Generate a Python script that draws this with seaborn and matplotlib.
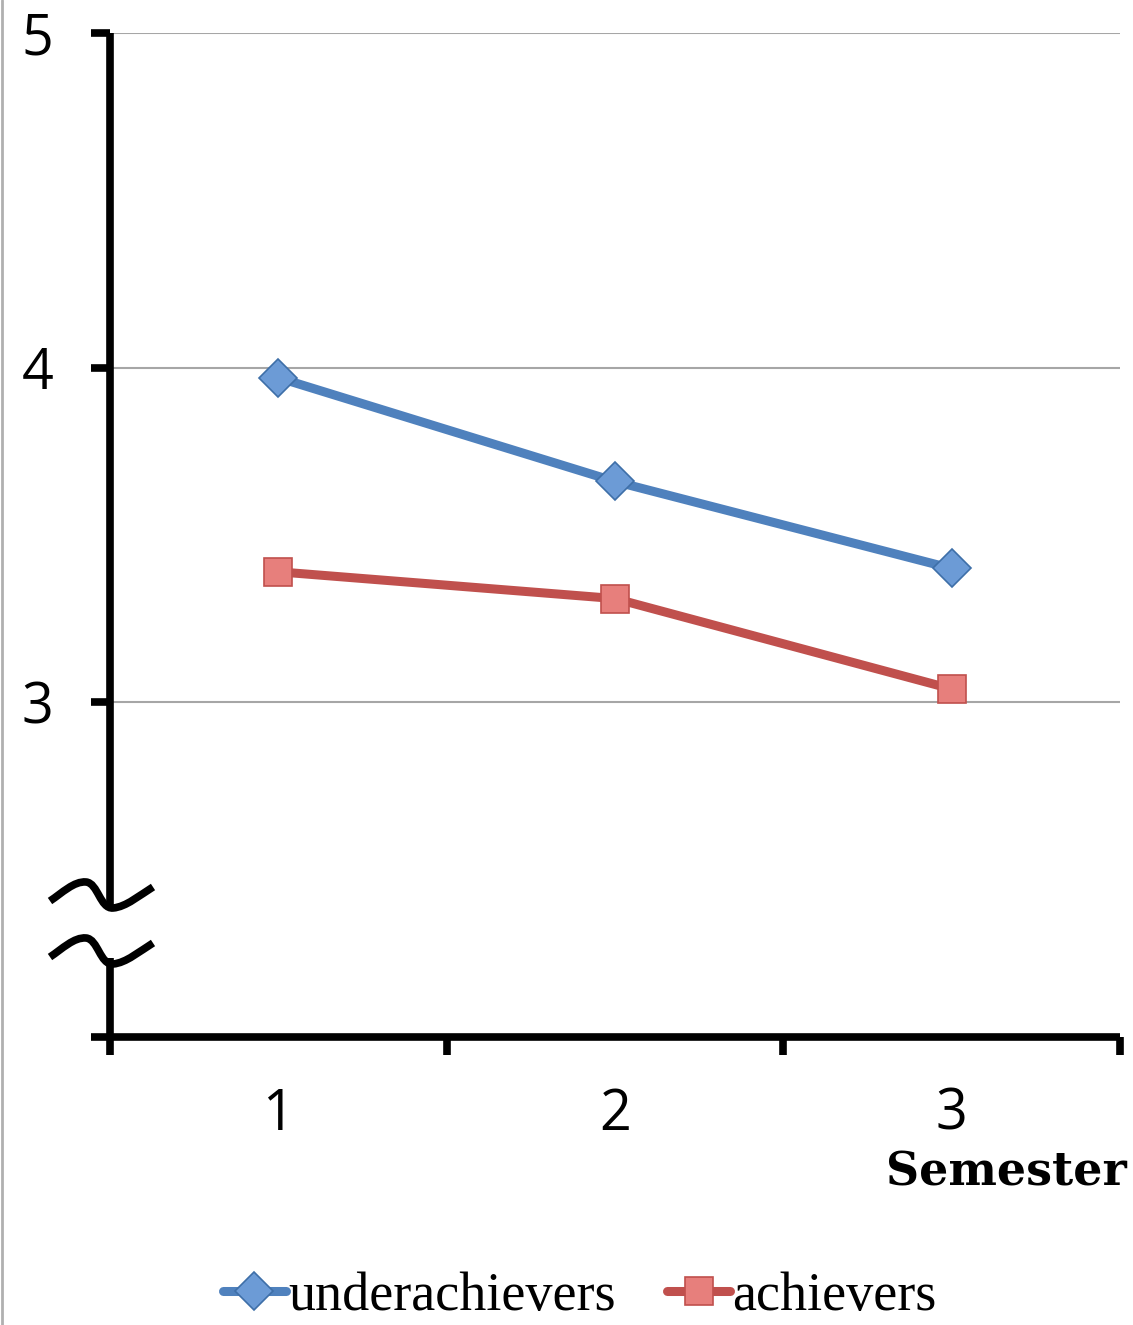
import matplotlib
matplotlib.use("Agg")
import matplotlib.pyplot as plt
import matplotlib.lines as mlines
from matplotlib.path import Path
from matplotlib.patches import PathPatch
import pandas as pd
import seaborn as sns

# values
semesters = [1, 2, 3]
underachievers = [3.97, 3.66, 3.40]
achievers = [3.39, 3.31, 3.04]
series_names = ["underachievers", "achievers"]
y_ticks = [2, 3, 4, 5]
y_tick_labels = ["", "3", "4", "5"]

df = pd.DataFrame({
    "Semester": semesters * 2,
    "value": underachievers + achievers,
    "group": [series_names[0]] * 3 + [series_names[1]] * 3,
})

sns.set_style("white")
plt.rcParams["font.family"] = ["Open Sans", "DejaVu Sans"]
plt.rcParams["text.color"] = "black"
plt.rcParams["xtick.color"] = "black"
plt.rcParams["ytick.color"] = "black"

W, H = 1133, 1325
fig = plt.figure(figsize=(W / 100, H / 100), dpi=100)
ax = fig.add_axes([110 / W, 1 - 1037 / H, 1010 / W, 1004 / H])

blue, red = "#4F81BD", "#C0504D"
sns.lineplot(data=df[df.group == "underachievers"], x="Semester", y="value",
             color=blue, lw=6.5, marker="D", markersize=19,
             markerfacecolor="#6C9BD6", markeredgecolor="#3E6FA8", markeredgewidth=1.2,
             ax=ax, label="underachievers", legend=False)
sns.lineplot(data=df[df.group == "achievers"], x="Semester", y="value",
             color=red, lw=6.5, marker="s", markersize=20,
             markerfacecolor="#E77F7C", markeredgecolor="#C0504D", markeredgewidth=1.2,
             ax=ax, label="achievers", legend=False)

ax.set_xlim(0.5, 3.5)
ax.set_ylim(2, 5)
ax.set_xlabel("")
ax.set_ylabel("")

# gridlines at 3, 4, 5
for yv in y_ticks[1:]:
    ax.axhline(yv, color="#A6A6A6", lw=1.5, zorder=0)

for s in ["top", "right"]:
    ax.spines[s].set_visible(False)
for s in ["left", "bottom"]:
    ax.spines[s].set_linewidth(5.5)
    ax.spines[s].set_color("black")
    ax.spines[s].set_capstyle("butt")

ax.set_yticks(y_ticks)
ax.set_yticklabels(y_tick_labels, fontsize=40, color="black")
ax.tick_params(axis="y", left=True, length=14, width=5.5, direction="out", pad=27, color="black")

# tick marks at category boundaries, labels at category centres
ax.set_xticks([0.5, 1.5, 2.5, 3.5])
ax.set_xticklabels([])
ax.tick_params(axis="x", which="major", bottom=True, length=13, width=5.5, direction="out",
               color="black")
ax.set_xticks(semesters, minor=True)
ax.set_xticklabels([str(s) for s in semesters], minor=True, fontsize=40, color="black")
ax.tick_params(axis="x", which="minor", bottom=True, length=0, pad=36)

# axis break on the y axis (white gap + two wavy marks), drawn in pixel units
ax.add_patch(plt.Rectangle((-0.02, 2.235), 0.04, 0.16, transform=ax.get_yaxis_transform(),
                           facecolor="white", edgecolor="none", zorder=5, clip_on=False))


def px(x, y):
    return ((x - 110) / 1010, (1037 - y) / 1004)


for dy in [0, 56]:
    verts = [px(50, 901 + dy),
             px(62, 893 + dy), px(74, 881 + dy), px(86, 882 + dy),
             px(98, 883 + dy), px(100, 909 + dy), px(113, 908 + dy),
             px(126, 907 + dy), px(140, 895 + dy), px(153, 887 + dy)]
    codes = [Path.MOVETO] + [Path.CURVE4] * 9
    ax.add_patch(PathPatch(Path(verts, codes), facecolor="none", edgecolor="black", lw=5.5,
                           transform=ax.transAxes, clip_on=False, zorder=6, capstyle="butt"))

fig.text(1127 / W, 1 - 1172 / H, "Semester", ha="right", va="center", color="black",
         fontsize=33, fontweight="bold", family="DejaVu Serif")

handles, labels = ax.get_legend_handles_labels()
leg = fig.legend(handles, labels, loc="center", bbox_to_anchor=(580 / W, 1 - 1297 / H), ncol=2,
                 frameon=False, prop={"family": "Liberation Serif", "size": 39},
                 handlelength=1.15, handletextpad=0.05, columnspacing=0.95, borderaxespad=0)
for txt in leg.get_texts():
    txt.set_color("black")

fig.add_artist(mlines.Line2D([2 / W, 2 / W], [0, 1], color="#B0B0B0", lw=2))

fig.savefig("out.png", dpi=100)
